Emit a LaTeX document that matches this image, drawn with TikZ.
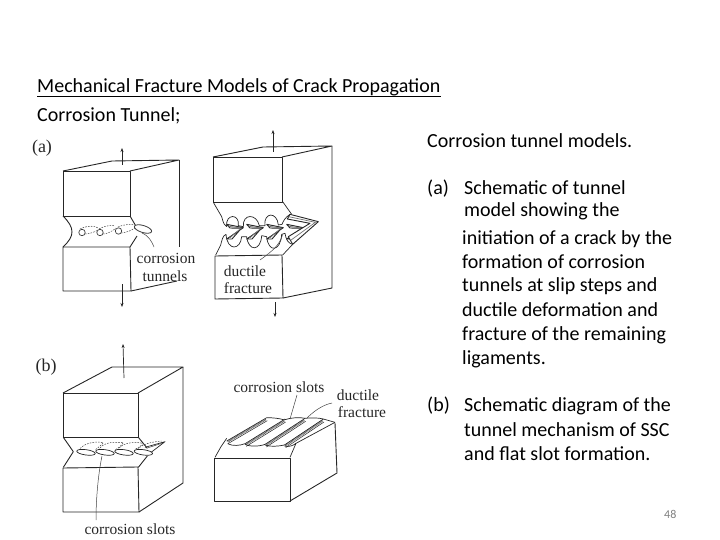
\documentclass[tikz,border=0pt]{standalone}
\usepackage{fontspec}
\setsansfont{Carlito}
\setmainfont{Liberation Serif}
\usetikzlibrary{arrows.meta}
\tikzset{
 slide/.style={font=\sffamily\fontsize{20}{22}\selectfont,anchor=base west,inner sep=0pt,text=black},
 scan/.style={font=\rmfamily\fontsize{15.5}{17}\selectfont,inner sep=0pt,text=black!85},
 body/.style={line width=.9pt,line join=round,draw=black!85},
 edge/.style={line width=.7pt,line join=round,draw=black!85},
 thin/.style={line width=.5pt,draw=black!75},
 dashline/.style={line width=.5pt,draw=black!75,dash pattern=on 1.6pt off 1.2pt},
 force/.style={line width=.6pt,draw=black!85,-{Stealth[length=4pt,width=3pt]}},
 zoomed/.style={x=.33333pt,y=-.33333pt}
}
\begin{document}
\begin{tikzpicture}[x=1pt,y=-1pt]
\useasboundingbox (0,0) rectangle (720,540);
% slide text
\node[slide] (title) at (37,93) {Mechanical Fracture Models of Crack Propagation};
\draw[line width=.7pt] ([yshift=-3pt]title.base west) -- ([yshift=-3pt]title.base east);
\node[slide] (sub) at (37,122) {Corrosion Tunnel;};
\node[slide] (cap) at (427,148) {Corrosion tunnel models.};
\node[slide] (al) at (427,195) {(a)};
\node[slide] (a1) at (464,195) {Schematic of tunnel};
\node[slide] (a2) at (464,217) {model showing the};
\node[slide] (a3) at (462,244) {initiation of a crack by the};
\node[slide] (a4) at (462,268) {formation of corrosion};
\node[slide] (a5) at (462,291) {tunnels at slip steps and};
\node[slide] (a6) at (462,316) {ductile deformation and};
\node[slide] (a7) at (462,340) {fracture of the remaining};
\node[slide] (a8) at (462,364) {ligaments.};
\node[slide] (bl) at (427,411) {(b)};
\node[slide] (b1) at (464,411) {Schematic diagram of the};
\node[slide] (b2) at (464,436) {tunnel mechanism of SSC};
\node[slide] (b3) at (464,460) {and flat slot formation.};
\node[slide,font=\sffamily\fontsize{12}{14}\selectfont,text=black!50] (pg) at (664,518) {48};
% labels
\node[scan,font=\rmfamily\fontsize{18}{20}\selectfont] (la) at (42,148) {(a)};
\node[scan,font=\rmfamily\fontsize{18}{20}\selectfont] (lb) at (46,367) {(b)};
\node[scan] (ct1) at (166,258) {corrosion};
\node[scan] (ct2) at (165,276) {tunnels};
\node[scan] (df1) at (245,271) {ductile};
\node[scan] (df2) at (248,288) {fracture};
\node[scan] (cs1) at (130,529) {corrosion slots};
\node[scan] (cs2) at (279,387) {corrosion slots};
\node[scan] (df3) at (358,395) {ductile};
\node[scan] (df4) at (362,412) {fracture};
% ---- block a left
\draw[body] (63,171) -- (130,171) -- (130,216) -- (63,216) -- cycle;
\draw[body] (63,171) -- (112,161) -- (179,160) -- (130,171);
\draw[body] (179,160) -- (179,247);
\draw[body] (63,247) -- (130,247) -- (131,291) -- (63,291) -- cycle;
\draw[body] (131,291) -- (177,281);
\draw[body] (63,216) .. controls (75,228) and (75,236) .. (63,247);
\draw[body] (130,216) -- (137,228);
\draw[body] (137,236) -- (130,247);
\draw[thin,line width=.7pt] (82,232.5) circle (3.2);
\draw[thin,line width=.7pt] (100,232.5) circle (3.2);
\draw[thin,line width=.7pt] (118.5,231) circle (3.2);
\draw[dashline] (80,229) .. controls (88,225) and (96,226) .. (98,228);
\draw[dashline] (85,234) .. controls (89,234) and (95,232) .. (98,230);
\draw[dashline] (99,229) .. controls (106,225) and (113,225) .. (115,226);
\draw[dashline] (103,234) .. controls (107,234) and (113,231) .. (116,228);
\draw[dashline] (118,227) .. controls (125,224) and (132,224) .. (134,225);
\draw[dashline] (121,233) .. controls (126,233) and (132,230) .. (135,228);
\draw[thin,line width=.8pt,fill=white,rotate around={-17:(143,229)}] (143,229) ellipse (9 and 3.5);
\draw[thin] (142,233) .. controls (149,236) and (152,242) .. (154,247);
\draw[force] (122,165) -- (122,148);
\draw[force] (122,284) -- (122,307);
% ---- block a right
\draw[body] (213,157) -- (282,157) -- (282,202) -- (213,202) -- cycle;
\draw[body] (213,157) -- (263,147) -- (332,146) -- (282,157);
\draw[body] (332,146) -- (332,288) -- (283,298);
\draw[body] (215,256) -- (282,255) -- (283,298) -- (215,299) -- cycle;
\draw[force] (273,152) -- (273,130);
\draw[force] (275,302) -- (275,317);
\begin{scope}[shift={(210,195)},zoomed]
 \draw[edge] (10,22) -- (35,65) .. controls (40,85) and (44,92) .. (50,95)
   .. controls (45,55) and (90,55) .. (85,92) -- (100,95)
   .. controls (97,55) and (140,55) .. (148,92) -- (165,92)
   .. controls (160,50) and (202,50) .. (205,90) -- (216,88)
   .. controls (220,78) and (225,68) .. (240,58);
 \draw[edge] (218,20) -- (245,58);
 \draw[edge] (17,180) -- (32,150) .. controls (36,135) and (38,122) .. (48,118)
   .. controls (52,170) and (92,165) .. (95,125) -- (110,125)
   .. controls (115,170) and (152,170) .. (155,122) -- (170,125)
   .. controls (175,175) and (212,170) .. (215,118) -- (225,115)
   .. controls (228,135) and (235,145) .. (248,148) -- (218,180);
 \foreach \t in {100,160,220,280} {
  \draw[edge,line width=.9pt,fill=white] (\t-50,88) -- (\t,98) -- (\t-50,132) -- (\t-34,132) -- (\t-6,100) -- (\t-40,99) -- cycle;
  \draw[draw=black!55,line width=.8pt] (\t-44,94) -- (\t-6,99) -- (\t-40,128);
 }
 \draw[edge,line width=.9pt,fill=white] (240,58) -- (325,80) -- (248,148) -- (235,125) -- (300,85) -- (232,72) -- cycle;
 \draw[draw=black!55,line width=.7pt] (236,65) -- (316,82) -- (242,136);
 \draw[thin] (218,118) .. controls (210,150) and (185,170) .. (150,195);
\end{scope}
% ---- block b left
\draw[body] (63,393) -- (138,393) -- (138,437) -- (63,437) -- cycle;
\draw[body] (63,393) -- (112,367) -- (183,367) -- (138,393);
\draw[body] (183,367) -- (183,483) -- (139,512);
\draw[body] (63,468) -- (138,467) -- (139,512) -- (63,512) -- cycle;
\begin{scope}[shift={(60,430)},zoomed]
 \draw[body] (10,22) -- (40,65) -- (10,112);
 \draw[body] (235,22) -- (262,55);
 \draw[body] (262,78) -- (235,112);
 \draw[dashline] (55,62) .. controls (70,40) and (100,33) .. (130,38) .. controls (125,45) and (115,52) .. (105,60);
 \draw[dashline] (115,60) .. controls (125,42) and (150,33) .. (190,38) .. controls (185,46) and (175,54) .. (165,60);
 \draw[dashline] (172,60) .. controls (185,42) and (210,33) .. (250,40) .. controls (245,46) and (235,54) .. (225,58);
 \draw[dashline] (232,58) .. controls (245,44) and (270,36) .. (305,33);
 \draw[edge] (255,52) -- (315,35) -- (272,68);
 \draw[thin] (262,54) -- (305,40);
 \foreach \x in {78,135,192,250} {
  \draw[edge,fill=white,rotate around={-8:(\x,67)}] (\x,67) ellipse (28 and 8);
 }
\end{scope}
\draw[force,line width=.7pt] (124,378) -- (123,344);
\draw[thin] (102,456) .. controls (98,475) and (96,500) .. (96,520);
% ---- block b right
\draw[body] (214,458) -- (290,458) -- (290,501) -- (214,501) -- cycle;
\draw[body] (290,501) -- (337,473) -- (335,423);
\begin{scope}[shift={(215,405)},zoomed]
 \draw[edge] (0,157) -- (18,125) -- (35,100);
 \draw[edge] (225,157) -- (243,115) -- (360,52);
 \foreach \a/\b/\c/\d in {35/108/155/38, 90/116/210/42, 150/118/270/40, 208/120/325/42} {
  \draw[line width=2pt,draw=black!60,dash pattern=on .8pt off .6pt] (\a+3,\b+2) -- (\c-2,\d+5);
  \draw[line width=.6pt,draw=black!85] (\a,\b) -- (\c,\d);
  \draw[line width=.5pt,draw=black!85] (\a+4,\b+8) -- (\c+2,\d+9);
 }
 \draw[edge] (38,116) .. controls (52,124) and (75,122) .. (90,116);
 \draw[edge] (90,118) .. controls (105,126) and (135,124) .. (150,118);
 \draw[edge] (150,120) .. controls (165,126) and (190,124) .. (208,120);
 \draw[edge] (208,123) .. controls (220,127) and (235,122) .. (243,115);
 \draw[edge] (155,38) .. controls (172,38) and (195,40) .. (208,45);
 \draw[edge] (210,44) .. controls (228,38) and (255,36) .. (270,40);
 \draw[edge] (270,40) .. controls (288,38) and (310,38) .. (325,42);
 \draw[edge] (325,42) -- (360,52);
\end{scope}
\draw[thin] (297,395) -- (290,419);
\draw[thin] (332,403) .. controls (322,405) and (313,412) .. (307,418);
\end{tikzpicture}
\end{document}
